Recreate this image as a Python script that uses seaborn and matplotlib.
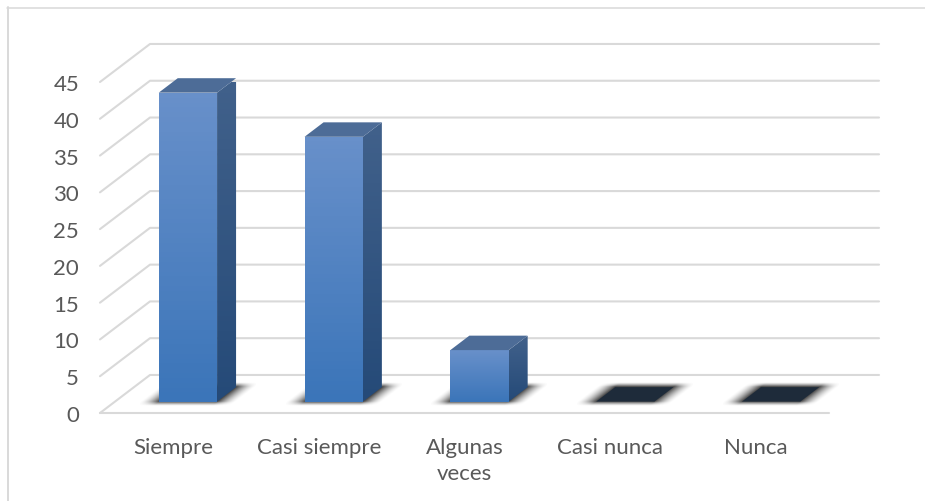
"""
3D looking column chart (Siempre ... Nunca), drawn on a flat seaborn barplot.
"""

import numpy as np
import matplotlib
matplotlib.use("Agg")
import matplotlib.pyplot as plt
import seaborn as sns
from matplotlib.colors import LinearSegmentedColormap
from matplotlib.lines import Line2D
from matplotlib.patches import Polygon

categories = ["Siempre", "Casi siempre", "Algunas\nveces", "Casi nunca", "Nunca"]
values = [42, 36, 7, 0, 0]
y_ticks = [0, 5, 10, 15, 20, 25, 30, 35, 40, 45]

# projection: one unit of depth moves this far in data units
DEPTH_X = 0.343
DEPTH_Y = 5.17
BAR_D0, BAR_D1 = 0.3, 0.68
BAR_WIDTH = 0.4

GRID = "#d9d9d9"
TEXT = "#595959"

sns.set_theme(style="white")
plt.rcParams["font.family"] = ["Lato", "DejaVu Sans"]

fig = plt.figure(figsize=(9.25, 5.02), dpi=100)
W, H = 925, 502
ax = fig.add_axes([100 / W, 1 - 414 / H, 729 / W, 331 / H])

sns.barplot(x=categories, y=values, width=BAR_WIDTH, color="#3a74b8", saturation=1, linewidth=0, ax=ax, zorder=3)
ax.set_xlim(-0.5, 4.5)
ax.set_ylim(0, 45)
ax.set_yticks(y_ticks)
sns.despine(ax=ax, left=True, bottom=True)
ax.patch.set_alpha(0)
ax.tick_params(axis="both", length=0, labelsize=16, labelcolor=TEXT)
ax.tick_params(axis="x", pad=17)
ax.tick_params(axis="y", pad=15)
for label in ax.get_xticklabels():
    label.set_linespacing(1.4)


def project(x, y, d):
    return x + d * DEPTH_X, y + d * DEPTH_Y


def face(points, **kw):
    p = Polygon(points, closed=True, clip_on=False, **kw)
    ax.add_patch(p)
    return p


def gradient_face(points, top, bottom, zorder):
    clip = face(points, facecolor="none", edgecolor="none", zorder=zorder)
    cmap = LinearSegmentedColormap.from_list("f", [top, bottom])
    xs = [p[0] for p in points]
    ys = [p[1] for p in points]
    im = ax.imshow(np.linspace(0, 1, 64).reshape(-1, 1), cmap=cmap, aspect="auto", zorder=zorder,
                   extent=(min(xs), max(xs), min(ys), max(ys)), origin="upper", clip_on=True)
    im.set_clip_path(clip)


def floor_shadow(left, right):
    # soft shadow on the floor, fades out along the skewed floor axes
    soft_x, soft_y = 0.13, 0.6
    y0, y1 = BAR_D0 * DEPTH_Y, BAR_D1 * DEPTH_Y
    x0 = left + BAR_D0 * DEPTH_X - soft_x
    x1 = right + BAR_D1 * DEPTH_X + soft_x
    ys = np.linspace(y0 - soft_y, y1 + soft_y, 60)
    xs = np.linspace(x0, x1, 240)
    gx, gy = np.meshgrid(xs, ys)
    skew = gx - gy / DEPTH_Y * DEPTH_X
    ramp_x = np.clip((skew - (left - soft_x)) / soft_x, 0, 1) * np.clip(((right + soft_x) - skew) / soft_x, 0, 1)
    ramp_y = np.clip((gy - (y0 - soft_y)) / soft_y, 0, 1) * np.clip(((y1 + soft_y) - gy) / soft_y, 0, 1)
    rgba = np.zeros(gx.shape + (4,))
    rgba[..., 3] = 0.72 * ramp_x ** 1.6 * ramp_y ** 1.3
    ax.imshow(rgba, extent=(x0, x1, ys[0], ys[-1]), origin="lower", aspect="auto", zorder=2, clip_on=False)


# walls and floor grid
for v in y_ticks:
    x0, y0 = project(-0.5, v, 0)
    x1, y1 = project(-0.5, v, 1)
    x2, y2 = project(4.5, v, 1)
    ax.plot([x0, x1, x2], [y0, y1, y2], color=GRID, lw=1.5, clip_on=False, zorder=1)
ax.plot([-0.5, 4.5], [0, 0], color=GRID, lw=1.5, clip_on=False, zorder=1)

# the seaborn bars give the front faces, moved back onto the floor
for patch, v in zip(list(ax.patches), values):
    left = patch.get_x()
    right = left + patch.get_width()
    fx0, fy0 = project(left, 0, BAR_D0)
    fx1, _ = project(right, 0, BAR_D0)
    bx0, by0 = project(left, 0, BAR_D1)
    bx1, _ = project(right, 0, BAR_D1)
    patch.set_x(fx0)
    patch.set_y(fy0)
    patch.set_clip_on(False)

    floor_shadow(left, right)

    if v == 0:
        patch.set_visible(False)
        face([(fx0, fy0), (fx1, fy0), (bx1, by0), (bx0, by0)], facecolor="#1e2b3a", edgecolor="none", zorder=4)
        continue

    top_y = fy0 + v
    back_top = by0 + v
    gradient_face([(fx0, fy0), (fx1, fy0), (fx1, top_y), (fx0, top_y)], "#6890ca", "#3b75b9", 4)
    gradient_face([(fx1, fy0), (bx1, by0), (bx1, back_top), (fx1, top_y)], "#41618b", "#254a78", 4)
    face([(fx0, top_y), (fx1, top_y), (bx1, back_top), (bx0, back_top)], facecolor="#4d6c97", edgecolor="none", zorder=4)

ax.set_xlim(-0.5, 4.5)
ax.set_ylim(0, 45)

# chart frame, runs off the bottom and right of the picture
fig.add_artist(Line2D([8 / W, 8 / W], [0, 1 - 8 / H], color=GRID, lw=1.4))
fig.add_artist(Line2D([7 / W, 1], [1 - 8.5 / H, 1 - 8.5 / H], color=GRID, lw=1.1))

plt.savefig("out.png", dpi=100)
plt.close()
